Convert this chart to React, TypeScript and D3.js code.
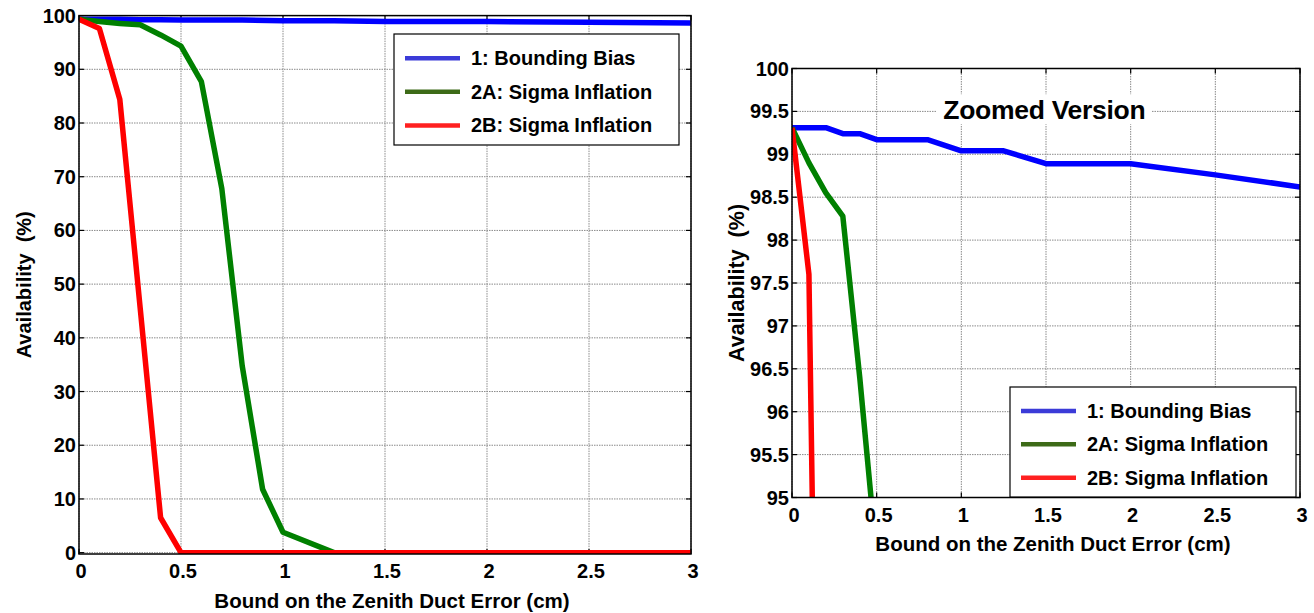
// Two availability panels: full range and a zoomed 95–100 % view of the same three curves.
import * as d3 from "d3";

const seriesNames = ["1: Bounding Bias", "2A: Sigma Inflation", "2B: Sigma Inflation"];
const lineColors = ["#0000ff", "#008000", "#ff0000"];
const legendColors = ["#3b3bd8", "#3d6b18", "#ff2020"];

const xTicks = [0, 0.5, 1, 1.5, 2, 2.5, 3];
const yTicksFull = [0, 10, 20, 30, 40, 50, 60, 70, 80, 90, 100];
const yTicksZoom = [95, 95.5, 96, 96.5, 97, 97.5, 98, 98.5, 99, 99.5, 100];

// bound (cm) -> availability (%)
const biasX = [0, 0.2, 0.3, 0.4, 0.5, 0.8, 1.0, 1.25, 1.5, 2.0, 2.5, 3.0];
const biasY = [99.31, 99.31, 99.24, 99.24, 99.17, 99.17, 99.04, 99.04, 98.89, 98.89, 98.76, 98.62];
const sig2aX = [0, 0.1, 0.2, 0.3, 0.4, 0.5, 0.6, 0.7, 0.8, 0.9, 1.0, 1.25, 3.0];
const sig2aY = [99.31, 98.9, 98.55, 98.28, 96.4, 94.3, 87.7, 67.8, 34.8, 11.8, 3.8, 0, 0];
const sig2bX = [0, 0.1, 0.2, 0.3, 0.4, 0.5, 3.0];
const sig2bY = [99.31, 97.6, 84.4, 45.5, 6.5, 0, 0];

const series = [
  d3.zip(biasX, biasY),
  d3.zip(sig2aX, sig2aY),
  d3.zip(sig2bX, sig2bY),
] as [number, number][][];

const FONT = "'Liberation Sans', Arial, sans-serif";

interface Box { l: number; r: number; t: number; b: number }
interface Legend { x: number; y: number; w: number; h: number }

function Panel({ id, box, yDomain, yTicks, legend, yLabelX, yLabelSize, xLabelY, title }: {
  id: string; box: Box; yDomain: [number, number]; yTicks: number[];
  legend: Legend; yLabelX: number; yLabelSize: number; xLabelY: number; title?: string;
}) {
  const x = d3.scaleLinear().domain([0, 3]).range([box.l, box.r]);
  const y = d3.scaleLinear().domain(yDomain).range([box.b, box.t]);
  const line = d3.line<[number, number]>().x((d) => x(d[0])).y((d) => y(d[1]));
  const tl = 5;
  const rowH = legend.h / 3.3;

  return (
    <g>
      <defs>
        <clipPath id={id}>
          <rect x={box.l} y={box.t - 4} width={box.r - box.l} height={box.b - box.t + 4} />
        </clipPath>
      </defs>
      {/* grid */}
      {xTicks.map((t) => (
        <line key={"gx" + t} x1={x(t)} x2={x(t)} y1={box.t} y2={box.b}
              stroke="#8a8a8a" strokeDasharray="1.5,1" strokeWidth={1} />
      ))}
      {yTicks.map((t) => (
        <line key={"gy" + t} x1={box.l} x2={box.r} y1={y(t)} y2={y(t)}
              stroke="#8a8a8a" strokeDasharray="1.5,1" strokeWidth={1} />
      ))}
      {/* ticks on all four sides, pointing in */}
      {xTicks.map((t) => (
        <g key={"tx" + t} stroke="#000" strokeWidth={1.2}>
          <line x1={x(t)} x2={x(t)} y1={box.b} y2={box.b - tl} />
          <line x1={x(t)} x2={x(t)} y1={box.t} y2={box.t + tl} />
        </g>
      ))}
      {yTicks.map((t) => (
        <g key={"ty" + t} stroke="#000" strokeWidth={1.2}>
          <line x1={box.l} x2={box.l + tl} y1={y(t)} y2={y(t)} />
          <line x1={box.r} x2={box.r - tl} y1={y(t)} y2={y(t)} />
        </g>
      ))}
      {title && (
        <g>
          <rect x={x(0.855)} y={y(99.7)} width={x(2.12) - x(0.855)} height={y(99.35) - y(99.7)} fill="#fff" />
          <text x={x(1.49)} y={y(99.52)} textAnchor="middle" dominantBaseline="central"
                fontFamily={FONT} fontWeight="bold" fontSize={26.5} letterSpacing={-0.3}>{title}</text>
        </g>
      )}
      {/* curves */}
      <g clipPath={`url(#${id})`} fill="none" strokeLinejoin="round">
        {series.map((s, i) => (
          <path key={i} d={line(s) ?? ""} stroke={lineColors[i]} strokeWidth={5.5} />
        ))}
      </g>
      <rect x={box.l} y={box.t} width={box.r - box.l} height={box.b - box.t}
            fill="none" stroke="#000" strokeWidth={1.5} />
      {/* tick labels */}
      {xTicks.map((t) => (
        <text key={"lx" + t} x={x(t) + 2} y={box.b + 17} textAnchor="middle" dominantBaseline="central"
              fontFamily={FONT} fontWeight="bold" fontSize={20}>{String(t)}</text>
      ))}
      {yTicks.map((t) => (
        <text key={"ly" + t} x={box.l - 3} y={y(t)} textAnchor="end" dominantBaseline="central"
              fontFamily={FONT} fontWeight="bold" fontSize={20}>{String(t)}</text>
      ))}
      <text x={(box.l + box.r) / 2 + 7} y={xLabelY} textAnchor="middle" dominantBaseline="central"
            fontFamily={FONT} fontWeight="bold" fontSize={20.5}>Bound on the Zenith Duct Error (cm)</text>
      <text transform={`translate(${yLabelX},${(box.t + box.b) / 2}) rotate(-90)`} textAnchor="middle"
            dominantBaseline="central" fontFamily={FONT} fontWeight="bold" fontSize={yLabelSize}
            style={{ whiteSpace: "pre" }}>{"Availability  (%)"}</text>
      {/* legend */}
      <rect x={legend.x} y={legend.y} width={legend.w} height={legend.h} fill="#fff" stroke="#000" strokeWidth={1.2} />
      {seriesNames.map((n, i) => {
        const cy = legend.y + rowH * (0.72 + i);
        return (
          <g key={n}>
            <line x1={legend.x + 11} x2={legend.x + 66} y1={cy} y2={cy} stroke={legendColors[i]} strokeWidth={4.5} />
            <text x={legend.x + 77} y={cy} dominantBaseline="central" fontFamily={FONT}
                  fontWeight="bold" fontSize={20}>{n}</text>
          </g>
        );
      })}
    </g>
  );
}

export default function App() {
  return (
    <svg width={1314} height={613} style={{ position: "absolute", left: 0, top: 0, background: "#fff" }}>
      <Panel id="clipFull" box={{ l: 79, r: 691, t: 15.6, b: 554 }} yDomain={[-0.25, 100]}
             yTicks={yTicksFull} legend={{ x: 394, y: 34, w: 285, h: 111 }}
             yLabelX={24} yLabelSize={20} xLabelY={600} />
      <Panel id="clipZoom" box={{ l: 792, r: 1300, t: 68.5, b: 497.5 }} yDomain={[95, 100]}
             yTicks={yTicksZoom} legend={{ x: 1010, y: 387, w: 286, h: 110 }}
             yLabelX={737} yLabelSize={21.5} xLabelY={543} title="Zoomed Version" />
    </svg>
  );
}
